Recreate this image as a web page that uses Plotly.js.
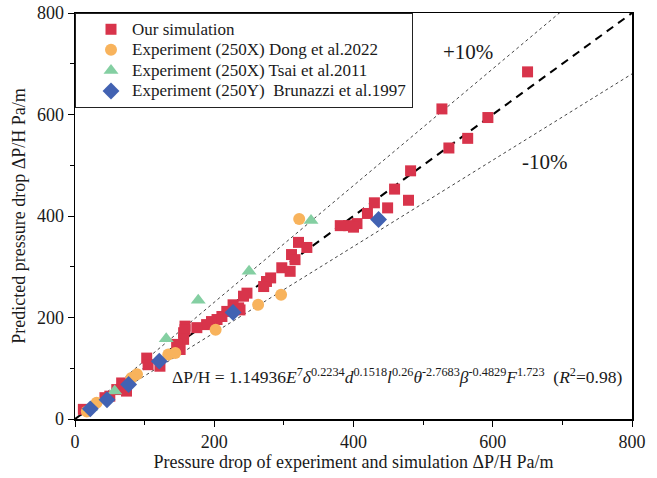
<!DOCTYPE html>
<html>
<head>
<meta charset="utf-8">
<script src="https://cdn.plot.ly/plotly-3.0.1.min.js"></script>
<style>html,body{margin:0;padding:0;background:#fff;}#chart{width:657px;height:478px;}</style>
</head>
<body>
<div id="chart"></div>
<script>
// ---- Data ----
const simX = [650,527,593,564,537,482,459,479,449,430,420,405,393,381,400,321,333,311,316,297,309,281,275,271,247,242,235,227,237,218,211,204,196,189,175,158,156,158,156,146,151,103,105,122,67,74,60,50,43,12];
const simY = [684,611,594,553,534,489,453,431,416,426,405,385,381,381,378,348,338,324,314,298,291,278,271,261,248,242,219,225,215,212,202,196,192,186,180,183,170,176,157,147,137,120,107,104,71,55,58,45,42,19];
const dongX = [322,296,263,202,134,144,89,81,31,17];
const dongY = [394,245,225,176,127,130,88,81,32,15];
const tsaiX = [339,250,177,131,57,22];
const tsaiY = [391,291,234,158,55,22];
const brunX = [436,227,121,77,46,22];
const brunY = [393,210,114,68,38,20];
const guideX = [0, 800];
const upperSlope = 1.15, lowerSlope = 0.85;
const tickVals = [0, 200, 400, 600, 800];
const names = ["Our simulation", "Experiment (250X) Dong et al.2022", "Experiment (250X) Tsai et al.2011", "Experiment (250Y)\u00a0 Brunazzi et al.1997"];

const font = "Liberation Serif, Times New Roman, serif";
const ink = '#1a1a1a';
const legName = s => '<span style="font-size:17px">' + s + '</span>';

const traces = [
  {x: guideX, y: guideX.map(v => v * upperSlope), mode: 'lines', line: {color: '#444', width: 1, dash: 'dot'}, showlegend: false, hoverinfo: 'skip'},
  {x: guideX, y: guideX.map(v => v * lowerSlope), mode: 'lines', line: {color: '#444', width: 1, dash: 'dot'}, showlegend: false, hoverinfo: 'skip'},
  {x: guideX, y: guideX, mode: 'lines', line: {color: '#000', width: 2, dash: '8px,6px'}, showlegend: false, hoverinfo: 'skip'},
  {x: simX, y: simY, mode: 'markers', name: legName(names[0]), marker: {symbol: 'square', size: 11, color: '#D8344B'}},
  {x: dongX, y: dongY, mode: 'markers', name: legName(names[1]), marker: {symbol: 'circle', size: 12, color: '#F8B35C'}},
  {x: tsaiX, y: tsaiY, mode: 'markers', name: legName(names[2]), marker: {symbol: 'triangle-up', size: 13, color: '#84CFA2'}},
  {x: brunX, y: brunY, mode: 'markers', name: legName(names[3]), marker: {symbol: 'diamond', size: 13, color: '#4262B2'}}
];

const axisCommon = {
  range: [0, 800], tickvals: tickVals, ticks: 'outside', ticklen: 6, tickwidth: 1, tickcolor: '#000',
  showline: true, linecolor: '#000', linewidth: 1.5, mirror: true, showgrid: false, zeroline: false,
  minor: {dtick: 100, ticks: 'outside', ticklen: 4, tickcolor: '#000', showgrid: false},
  tickfont: {family: font, size: 18, color: ink}
};

const layout = {
  width: 657, height: 478,
  margin: {l: 75, r: 25, t: 13, b: 59},
  paper_bgcolor: '#fff', plot_bgcolor: '#fff',
  font: {family: font, color: ink},
  xaxis: Object.assign({}, axisCommon, {title: {text: 'Pressure drop of experiment and simulation \u0394P/H Pa/m', font: {family: font, size: 18, color: ink}, standoff: 4}}),
  yaxis: Object.assign({}, axisCommon, {title: {text: 'Predicted pressure drop \u0394P/H Pa/m', font: {family: font, size: 18, color: ink}, standoff: 6}}),
  showlegend: true,
  legend: {x: 0, y: 1, xanchor: 'left', yanchor: 'top', bgcolor: '#fff', bordercolor: '#222', borderwidth: 1,
           font: {family: font, size: 13.5, color: ink}, itemwidth: 32, indentation: 14, tracegroupgap: 0},
  annotations: [
    {x: 565, y: 723, xref: 'x', yref: 'y', text: '+10%', showarrow: false, font: {family: font, size: 21, color: ink}},
    {x: 675, y: 507, xref: 'x', yref: 'y', text: '-10%', showarrow: false, font: {family: font, size: 21, color: ink}},
    {x: 136, y: 84, xref: 'x', yref: 'y', xanchor: 'left', showarrow: false,
     text: '\u0394P/H = 1.14936<i>E</i><sup>7</sup><i>\u03b4</i><sup>0.2234</sup><i>d</i><sup>0.1518</sup><i>l</i><sup>0.26</sup><i>\u03b8</i><sup>-2.7683</sup><i>\u03b2</i><sup>-0.4829</sup><i>F</i><sup>1.723</sup>\u00a0 (<i>R</i><sup>2</sup>=0.98)',
     font: {family: font, size: 17.5, color: ink}}
  ]
};

Plotly.newPlot('chart', traces, layout, {displayModeBar: false, staticPlot: true});
</script>
</body>
</html>
